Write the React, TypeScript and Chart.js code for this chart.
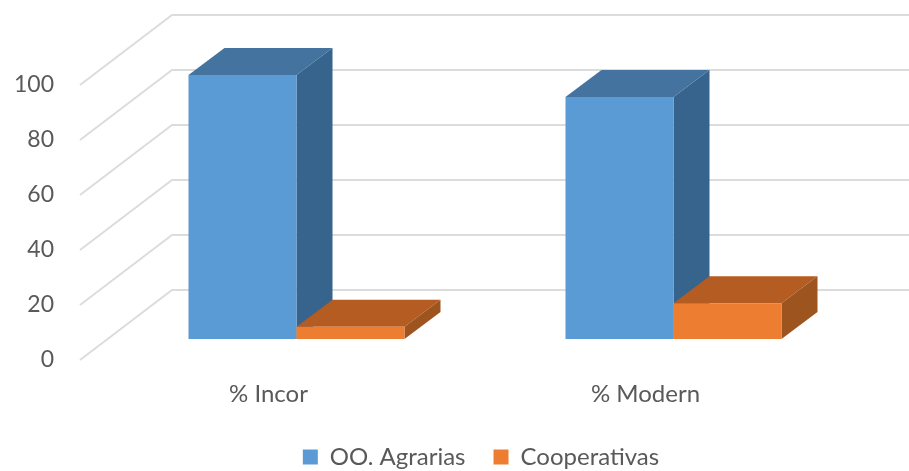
import React, { useEffect, useRef } from "react";
import { Chart, registerables } from "chart.js";

Chart.register(...registerables);

const categories = ["% Incor", "% Modern"];
const agrarias = [96, 88];
const cooperativas = [4.5, 13];
const yTicks = [0, 20, 40, 60, 80, 100];

const BLUE = { front: "#5b9bd5", top: "#44739f", side: "#37648c" };
const ORANGE = { front: "#ed7d31", top: "#b45c22", side: "#9d541f" };
const GRID = "#dcdcdc";
const TEXT = "#595959";
const FONT = "Lato, 'Open Sans', sans-serif";

// Perspective of the 3D box (pixels)
const BAR_SHIFT = { x: 28, y: -21 };
const BAR_DEPTH = { x: 36, y: -27 };
const WALL_DEPTH = { x: 92, y: -70 };
const LEGEND_SHIFT = 64;
const LEGEND_TOP = 417;

const poly = (ctx: CanvasRenderingContext2D, pts: number[][], fill: string) => {
  ctx.beginPath();
  pts.forEach(([x, y], i) => (i ? ctx.lineTo(x, y) : ctx.moveTo(x, y)));
  ctx.closePath();
  ctx.fillStyle = fill;
  ctx.fill();
};

const box3d = {
  id: "box3d",
  afterLayout(chart: any) {
    const lg = chart.legend;
    const h = lg.bottom - lg.top;
    lg.left += LEGEND_SHIFT;
    lg.right += LEGEND_SHIFT;
    lg.top = LEGEND_TOP;
    lg.bottom = LEGEND_TOP + h;
  },
  beforeDatasetsDraw(chart: any) {
    const { ctx, scales, chartArea } = chart;
    ctx.save();
    ctx.strokeStyle = GRID;
    ctx.lineWidth = 2;
    for (const v of yTicks) {
      const y = scales.y.getPixelForValue(v);
      ctx.beginPath();
      ctx.moveTo(chartArea.left, y);
      ctx.lineTo(chartArea.left + WALL_DEPTH.x, y + WALL_DEPTH.y);
      ctx.lineTo(chart.width, y + WALL_DEPTH.y);
      ctx.stroke();
    }
    ctx.restore();

    // first series first, so that the second one's top lies over the first one's side
    ctx.save();
    ctx.translate(BAR_SHIFT.x, BAR_SHIFT.y);
    [0, 1].forEach((i) => {
      const meta = chart.getDatasetMeta(i);
      const colors = i === 0 ? BLUE : ORANGE;
      for (const el of meta.data) {
        const { x, y, base, width } = el.getProps(["x", "y", "base", "width"], true);
        const l = x - width / 2;
        const r = x + width / 2;
        const d = BAR_DEPTH;
        poly(ctx, [[l, y], [r, y], [r + d.x, y + d.y], [l + d.x, y + d.y]], colors.top);
        poly(ctx, [[r, y], [r + d.x, y + d.y], [r + d.x, base + d.y], [r, base]], colors.side);
      }
      meta.controller.draw();
    });
    ctx.restore();
  },
  beforeDatasetDraw() {
    return false; // the bars were painted above, in their 3D order
  },
};

export default function App() {
  const ref = useRef<HTMLCanvasElement>(null);
  useEffect(() => {
    const chart = new Chart(ref.current!, {
      type: "bar",
      data: {
        labels: categories,
        datasets: [
          { label: "OO. Agrarias", data: agrarias, backgroundColor: BLUE.front },
          { label: "Cooperativas", data: cooperativas, backgroundColor: ORANGE.front },
        ],
      },
      plugins: [box3d],
      options: {
        animation: false,
        responsive: false,
        devicePixelRatio: 1,
        layout: { padding: { top: 85, right: 75, left: 0, bottom: 0 } },
        datasets: { bar: { barPercentage: 1, categoryPercentage: 0.573, borderWidth: 0 } },
        plugins: {
          tooltip: { enabled: false },
          legend: {
            position: "bottom",
            labels: {
              color: TEXT,
              font: { family: FONT, size: 24 },
              boxWidth: 15,
              boxHeight: 15,
              padding: 28,
            },
          },
        },
        scales: {
          x: {
            grid: { display: false },
            border: { display: false },
            ticks: { color: TEXT, font: { family: FONT, size: 24 }, padding: 12, maxRotation: 0 },
            afterFit(s: any) {
              s.height = 49;
            },
          },
          y: {
            min: 0,
            max: 100,
            grid: { display: false },
            border: { display: false },
            ticks: {
              color: TEXT,
              font: { family: FONT, size: 23 },
              padding: 18,
              stepSize: 20,
            },
            afterFit(s: any) {
              s.width = 80;
            },
          },
        },
      },
    });
    return () => chart.destroy();
  }, []);
  return (
    <div style={{ position: "fixed", left: 0, top: 0, width: 909, height: 471, background: "#fff" }}>
      <canvas ref={ref} width={909} height={471} style={{ display: "block", filter: "blur(0.5px)" }} />
    </div>
  );
}
